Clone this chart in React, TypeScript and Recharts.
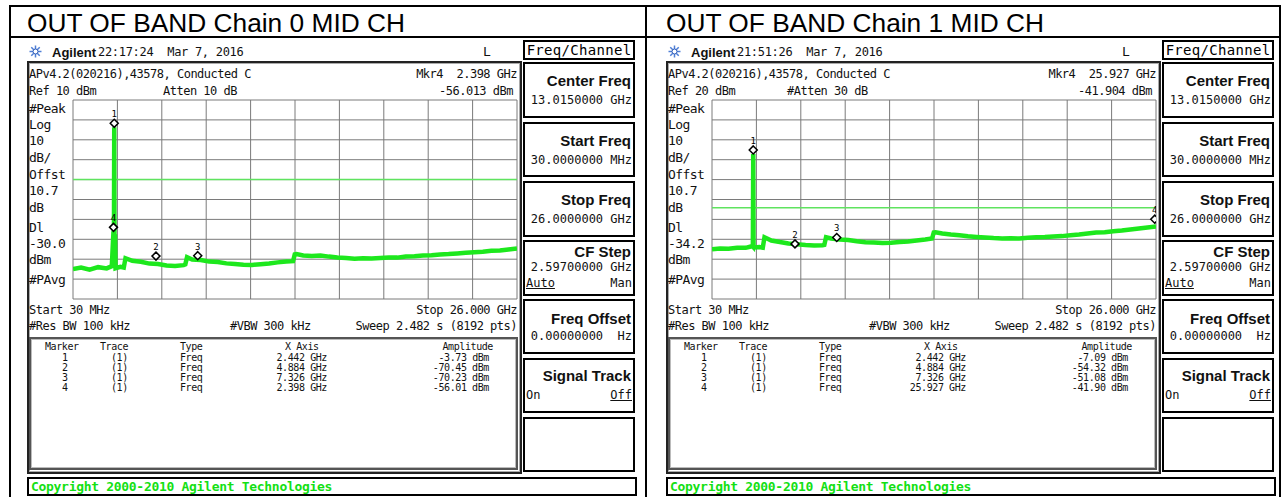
import React from 'react'
import { ComposedChart, Line, Scatter, XAxis, YAxis, CartesianGrid, ReferenceLine } from 'recharts'

// sweep points (GHz), shared by both traces
const FREQ_GHZ = [
  0.03, 0.5, 1.0, 1.5, 2.0, 2.3, 2.398, 2.42, 2.442, 2.46, 2.49, 2.52, 2.8, 3.0, 3.1, 3.5, 4.0, 4.5, 5.0, 5.5,
  6.0, 6.5, 6.6, 6.7, 7.0, 7.5, 8.0, 8.5, 9.0, 9.5, 10.0, 10.5, 11.0, 11.5, 12.0, 12.5, 12.9, 13.0, 13.1, 13.5,
  14.0, 14.5, 15.0, 15.5, 16.0, 16.5, 17.0, 17.5, 18.0, 18.5, 19.0, 19.5, 20.0, 20.5, 21.0, 21.5, 22.0, 22.5,
  23.0, 23.5, 24.0, 24.5, 25.0, 25.5, 26.0,
]

// chain 0 trace (dBm)
const CH0_DBM = [
  -75, -74.2, -75.3, -74, -74.6, -73.5, -56, -74, -3.7, -74, -57.5, -74.5, -73.8, -74.2, -69.5, -70.8, -71.3, -72.2, -72.4, -73.2,
  -73.4, -73, -72.6, -69, -70.2, -70.4, -71.2, -71.4, -72.1, -72.4, -72.8, -72.9, -72.5, -72.2, -71.6, -71.2, -71, -67.6, -67.4, -68.1,
  -68.4, -68.2, -68.7, -69.1, -69.4, -69.8, -69.5, -69.7, -69.4, -69.1, -69.2, -68.6, -68.5, -68.2, -68, -67.6, -67.4, -67.1,
  -66.8, -66.5, -66.2, -65.8, -65.6, -65.1, -64.6,
]

// chain 1 trace (dBm)
const CH1_DBM = [
  -55, -54.6, -54.8, -54.2, -54.3, -53.6, -53.5, -53.7, -7.1, -54, -54.2, -54.1, -53.9, -54.2, -49, -50.6, -51.4, -52.1, -52.5, -52.9,
  -53.1, -53, -52.8, -49, -49.6, -50.1, -50.4, -51, -51.5, -51.6, -51.9, -51.7, -51.4, -51.1, -50.6, -50.1, -49.6, -46.6, -46.5, -47.1,
  -47.6, -48, -48.5, -48.8, -49.1, -49.4, -49.6, -49.5, -49.6, -49.2, -49, -48.9, -48.6, -48.4, -48, -47.6, -47.1, -46.6,
  -46.4, -46, -45.6, -45.1, -44.6, -44.1, -43.6,
]

const X_TICKS = [0.03, 2.627, 5.224, 7.821, 10.418, 13.015, 15.612, 18.209, 20.806, 23.403, 26.0]
const CH0_Y_TICKS = [10, 0, -10, -20, -30, -40, -50, -60, -70, -80, -90]
const CH1_Y_TICKS = [20, 10, 0, -10, -20, -30, -40, -50, -60, -70, -80]

const MARKER_IDS = ['1', '2', '3', '4']
const CH0_MKR_GHZ = [2.442, 4.884, 7.326, 2.398]
const CH0_MKR_DBM = [-3.73, -70.45, -70.23, -56.01]
const CH1_MKR_GHZ = [2.442, 4.884, 7.326, 25.927]
const CH1_MKR_DBM = [-7.09, -54.32, -51.08, -41.9]

const MONO = '"DejaVu Sans Mono", monospace'
const SANS = '"Liberation Sans", Arial, sans-serif'

const PANELS = [
  {
    title: 'OUT OF BAND Chain 0 MID CH', time: '22:17:24  Mar 7, 2016', ref: 'Ref 10 dBm', atten: 'Atten 10 dB', attenX: 137,
    readout: -56.013, dl: -30, dlLabel: '-30.0', yTicks: CH0_Y_TICKS, trace: CH0_DBM, mkrGhz: CH0_MKR_GHZ, mkrDbm: CH0_MKR_DBM,
  },
  {
    title: 'OUT OF BAND Chain 1 MID CH', time: '21:51:26  Mar 7, 2016', ref: 'Ref 20 dBm', atten: '#Atten 30 dB', attenX: 122,
    readout: -41.904, dl: -34.2, dlLabel: '-34.2', yTicks: CH1_Y_TICKS, trace: CH1_DBM, mkrGhz: CH1_MKR_GHZ, mkrDbm: CH1_MKR_DBM,
  },
]

type TxtProps = {
  x: number; y: number; right?: boolean; size?: number; ls?: number; bold?: boolean
  color?: string; font?: string; underline?: boolean; children: React.ReactNode
}

function Txt({ x, y, right, size = 12, ls = -0.5, bold, color = '#111', font = MONO, underline, children }: TxtProps) {
  const style: React.CSSProperties = {
    position: 'absolute', top: y, fontFamily: font, fontSize: size, letterSpacing: ls, lineHeight: 1,
    fontWeight: bold ? 700 : 400, color, whiteSpace: 'pre', textDecoration: underline ? 'underline' : undefined,
  }
  if (right) {
    style.left = x - 300
    style.width = 300
    style.textAlign = 'right'
  } else style.left = x
  return <div style={style}>{children}</div>
}

function MarkerShape(props: any) {
  const { cx, cy, payload } = props
  const d = cy - 4
  return (
    <g>
      <path d={`M${cx},${d - 4} L${cx + 4},${d} L${cx},${d + 4} L${cx - 4},${d} Z`} fill="#fff" stroke="#000" strokeWidth={1.5} />
      <text x={cx} y={d - 6} textAnchor="middle" fontSize={9} fontFamily={MONO} fill="#000">{payload.id}</text>
    </g>
  )
}

function SoftKey({ top, h, children }: { top: number; h: number; children?: React.ReactNode }) {
  return (
    <div style={{ position: 'absolute', left: 497, top, width: 112, height: h, border: '2px solid #000', boxSizing: 'border-box' }}>
      {children}
    </div>
  )
}

function KeyLabel({ y, text }: { y: number; text: string }) {
  return <Txt x={106} y={y} right size={15} ls={0} bold font={SANS}>{text}</Txt>
}

function KeyValue({ y, text }: { y: number; text: string }) {
  return <Txt x={107} y={y} right size={12} ls={0}>{text}</Txt>
}

function Star() {
  const rays = [0, 45, 90, 135]
  return (
    <svg width={13} height={13} style={{ position: 'absolute', left: 3, top: 45 }}>
      {rays.map((a) => (
        <line key={a} x1={6.5} y1={0.5} x2={6.5} y2={12.5} stroke="#4f7fd6" strokeWidth={1.5} transform={`rotate(${a} 6.5 6.5)`} />
      ))}
      <circle cx={6.5} cy={6.5} r={2.5} fill="#fff" stroke="#2c5bb8" strokeWidth={1} />
    </svg>
  )
}

type PanelCfg = (typeof PANELS)[number]

function Panel({ ox, cfg }: { ox: number; cfg: PanelCfg }) {
  const data = FREQ_GHZ.map((f, i) => ({ f, amp: cfg.trace[i] }))
  const markers = MARKER_IDS.map((id, i) => ({ id, f: cfg.mkrGhz[i], amp: cfg.mkrDbm[i] }))
  const yTop = cfg.yTicks[0]
  const yBottom = cfg.yTicks[cfg.yTicks.length - 1]
  const sideLabels = ['#Peak', 'Log', '10', 'dB/', 'Offst', '10.7', 'dB', 'Dl', cfg.dlLabel, 'dBm', '#PAvg']
  const sideTops = [101.5, 117.5, 133.5, 150.5, 167.5, 183.5, 200.5, 220.5, 236.5, 252.5, 272.5]
  const rowTops = [353, 363, 373, 383]
  const tbl = { size: 10, ls: -0.4 }

  return (
    <div style={{ position: 'absolute', left: ox, top: 0, width: 612, height: 497 }}>
      <div style={{ position: 'absolute', left: 1, top: 10, fontFamily: SANS, fontSize: 26.3, lineHeight: 1, whiteSpace: 'pre', color: '#000' }}>
        {cfg.title}
      </div>

      <Star />
      <Txt x={26} y={45.5} size={13} ls={0} bold font={SANS}>Agilent</Txt>
      <Txt x={72} y={45.5} size={12} ls={-0.3}>{cfg.time}</Txt>
      <Txt x={457} y={44.5} size={13} ls={0}>L</Txt>

      <div style={{ position: 'absolute', left: 497, top: 40, width: 112, height: 20, border: '2px solid #000', boxSizing: 'border-box',
        fontFamily: MONO, fontSize: 14, letterSpacing: 0.3, lineHeight: '16px', textAlign: 'center', whiteSpace: 'pre' }}>
        Freq/Channel
      </div>

      {/* display frame */}
      <div style={{ position: 'absolute', left: 1, top: 61, width: 495, height: 413, border: '2px solid #222', boxSizing: 'border-box',
        boxShadow: 'inset 0 0 0 1px #aaa' }} />

      <Txt x={3} y={67.5}>APv4.2(020216),43578, Conducted C</Txt>
      <Txt x={491} y={67.5} right>{`Mkr4  ${cfg.mkrGhz[3].toFixed(3)} GHz`}</Txt>
      <Txt x={3} y={84.5}>{cfg.ref}</Txt>
      <Txt x={cfg.attenX} y={84.5}>{cfg.atten}</Txt>
      <Txt x={487} y={84.5} right>{`${cfg.readout.toFixed(3)} dBm`}</Txt>

      {sideLabels.map((s, i) => (
        <Txt key={i} x={3} y={sideTops[i]} size={13} ls={-0.6}>{s}</Txt>
      ))}

      <div style={{ position: 'absolute', left: 46, top: 99 }}>
        <ComposedChart width={446} height={201} data={data} margin={{ top: 1, right: 1, bottom: 1, left: 1 }}>
          <XAxis dataKey="f" type="number" domain={[X_TICKS[0], X_TICKS[X_TICKS.length - 1]]} ticks={X_TICKS} interval={0} hide allowDataOverflow />
          <YAxis type="number" domain={[yBottom, yTop]} ticks={cfg.yTicks} interval={0} hide allowDataOverflow />
          <CartesianGrid stroke="#7a7a7a" strokeWidth={1} />
          <ReferenceLine y={cfg.dl} stroke="#5fe35f" strokeWidth={1.5} />
          <Line dataKey="amp" type="linear" stroke="#1de81d" strokeWidth={4.5} dot={false} isAnimationActive={false} />
          <Scatter data={markers} dataKey="amp" shape={MarkerShape} isAnimationActive={false} />
        </ComposedChart>
      </div>

      <Txt x={3} y={304}>Start 30 MHz</Txt>
      <Txt x={491} y={304} right>Stop 26.000 GHz</Txt>
      <Txt x={3} y={320}>#Res BW 100 kHz</Txt>
      <Txt x={204} y={320}>#VBW 300 kHz</Txt>
      <Txt x={491} y={320} right>Sweep 2.482 s (8192 pts)</Txt>

      {/* marker table */}
      <div style={{ position: 'absolute', left: 3, top: 337, width: 489, height: 133, border: '2px solid #555', boxSizing: 'border-box',
        boxShadow: 'inset 0 0 0 1px #bbb' }} />
      <Txt x={19} y={342} {...tbl}>Marker</Txt>
      <Txt x={74} y={342} {...tbl}>Trace</Txt>
      <Txt x={154} y={342} {...tbl}>Type</Txt>
      <Txt x={259} y={342} {...tbl}>X Axis</Txt>
      <Txt x={467} y={342} right {...tbl}>Amplitude</Txt>
      {MARKER_IDS.map((id, i) => (
        <React.Fragment key={id}>
          <Txt x={36} y={rowTops[i]} {...tbl}>{id}</Txt>
          <Txt x={85} y={rowTops[i]} {...tbl}>(1)</Txt>
          <Txt x={154} y={rowTops[i]} {...tbl}>Freq</Txt>
          <Txt x={301} y={rowTops[i]} right {...tbl}>{`${cfg.mkrGhz[i].toFixed(3)} GHz`}</Txt>
          <Txt x={463} y={rowTops[i]} right {...tbl}>{`${cfg.mkrDbm[i].toFixed(2)} dBm`}</Txt>
        </React.Fragment>
      ))}

      {/* softkeys */}
      <SoftKey top={62} h={56}>
        <KeyLabel y={9} text="Center Freq" />
        <KeyValue y={30} text="13.0150000 GHz" />
      </SoftKey>
      <SoftKey top={122} h={55}>
        <KeyLabel y={9} text="Start Freq" />
        <KeyValue y={30} text="30.0000000 MHz" />
      </SoftKey>
      <SoftKey top={181} h={56}>
        <KeyLabel y={9} text="Stop Freq" />
        <KeyValue y={30} text="26.0000000 GHz" />
      </SoftKey>
      <SoftKey top={240} h={56}>
        <KeyLabel y={2} text="CF Step" />
        <KeyValue y={19} text="2.59700000 GHz" />
        <Txt x={1} y={35} size={12} ls={0} underline>Auto</Txt>
        <Txt x={107} y={35} right size={12} ls={0}>Man</Txt>
      </SoftKey>
      <SoftKey top={299} h={55}>
        <KeyLabel y={10} text="Freq Offset" />
        <KeyValue y={29} text="0.00000000  Hz" />
      </SoftKey>
      <SoftKey top={358} h={55}>
        <KeyLabel y={8} text="Signal Track" />
        <Txt x={1} y={29} size={12} ls={0}>On</Txt>
        <Txt x={107} y={29} right size={12} ls={0} underline>Off</Txt>
      </SoftKey>
      <SoftKey top={417} h={55} />

      <div style={{ position: 'absolute', left: 1, top: 477, width: 610, height: 19, border: '2px solid #000', boxSizing: 'border-box' }}>
        <Txt x={2} y={1} size={13} ls={-0.3} bold color="#13e013">Copyright 2000-2010 Agilent Technologies</Txt>
      </div>
    </div>
  )
}

export default function App() {
  const line = (l: number, t: number, w: number, h: number) => (
    <div style={{ position: 'absolute', left: l, top: t, width: w, height: h, background: '#000' }} />
  )
  return (
    <div style={{ position: 'absolute', left: 0, top: 0, width: 1283, height: 497, background: '#fff', overflow: 'hidden' }}>
      {line(9, 5, 1272, 2)}
      {line(9, 36, 1272, 2)}
      {line(9, 5, 2, 492)}
      {line(645, 5, 2, 492)}
      {line(1279, 5, 2, 492)}
      <Panel ox={26} cfg={PANELS[0]} />
      <Panel ox={665} cfg={PANELS[1]} />
    </div>
  )
}
